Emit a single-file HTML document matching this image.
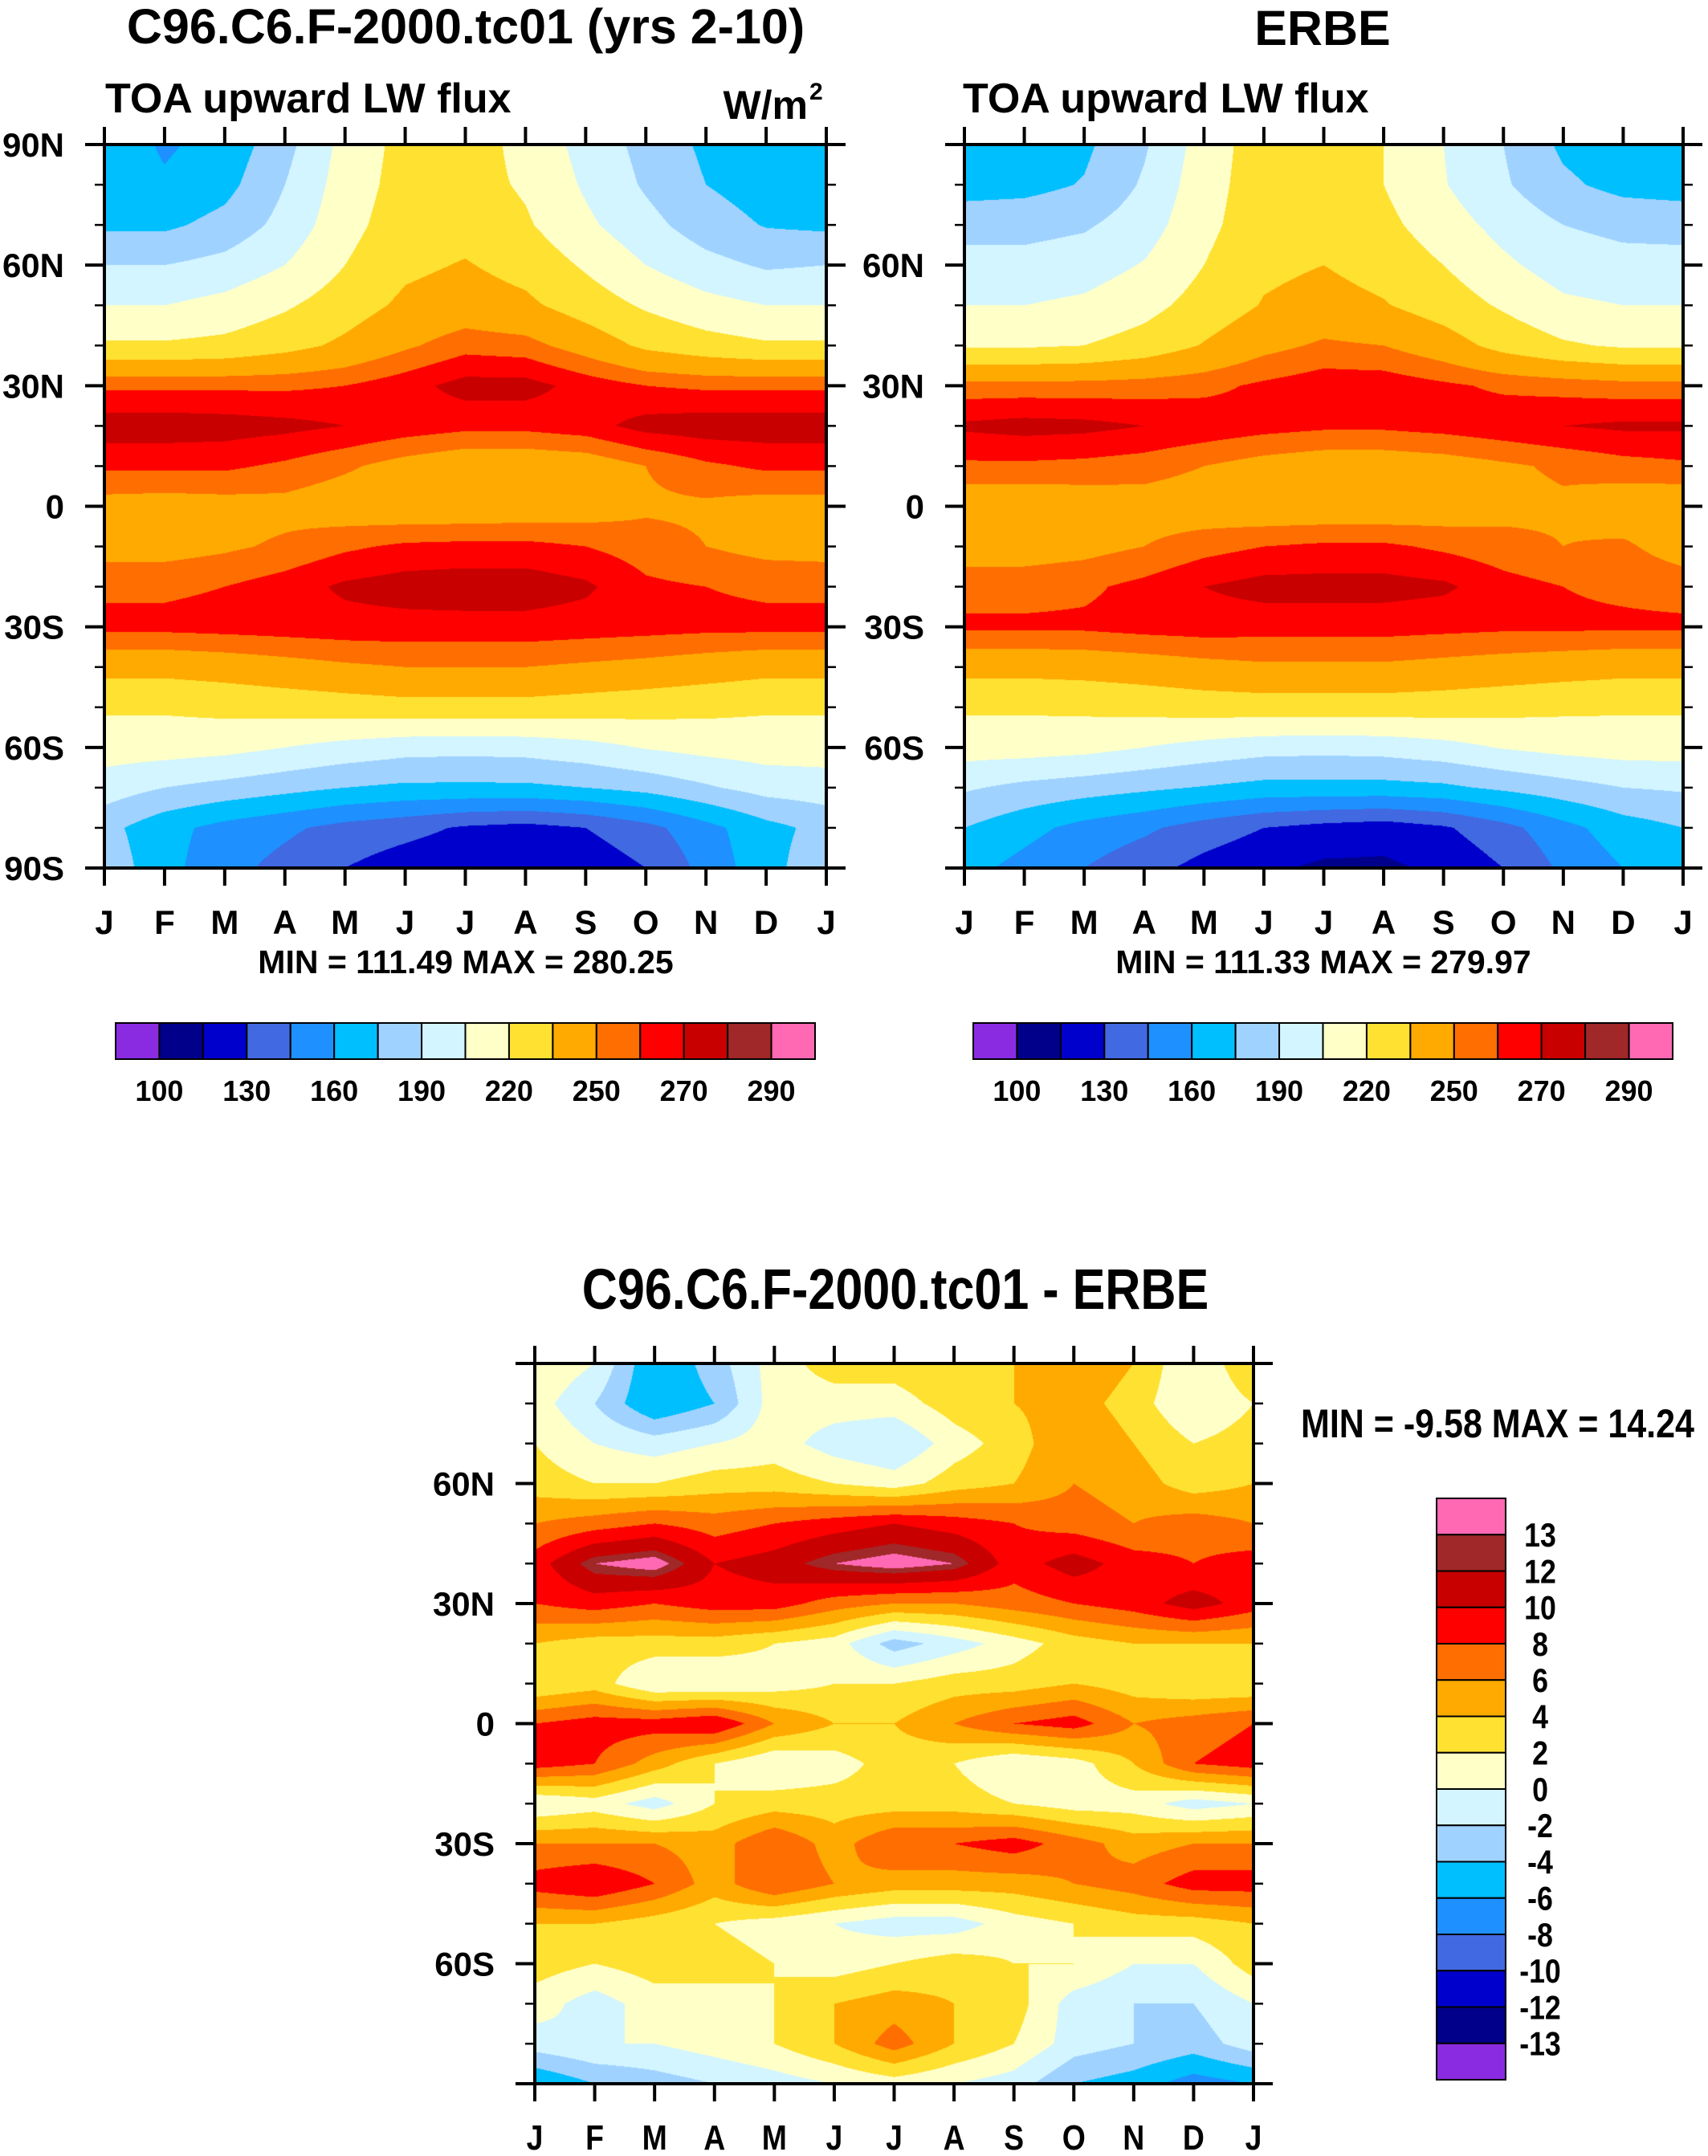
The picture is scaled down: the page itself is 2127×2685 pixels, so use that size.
<!DOCTYPE html>
<html><head><meta charset="utf-8"><style>
html,body{margin:0;padding:0;background:#fff}
#wrap{position:relative;width:2127px;height:2685px;overflow:hidden}
canvas{position:absolute}
svg{position:absolute;left:0;top:0}
text{font-family:"Liberation Sans",sans-serif;font-weight:bold;fill:#000}
</style></head><body>
<div id="wrap">
<canvas id="c1"></canvas>
<canvas id="c2"></canvas>
<canvas id="c3"></canvas>
<svg id="s" width="2127" height="2685"></svg>
</div>
<script>
const months=["J","F","M","A","M","J","J","A","S","O","N","D","J"];
const lats=[90,80,70,60,50,40,30,20,10,0,-10,-20,-30,-40,-50,-60,-70,-80,-90];
const absLevels=[100,115,130,145,160,175,190,205,220,235,250,260,270,280,290];
const absTickLabels=["100","130","160","190","220","250","270","290"];
const diffLevels=[-13,-12,-10,-8,-6,-4,-2,0,2,4,6,8,10,12,13];
const diffTickLabels=["13","12","10","8","6","4","2","0","-2","-4","-6","-8","-10","-12","-13"];
const colors=["#8a2be2","#00008b","#0000cd","#4169e1","#1e90ff","#00bfff","#a0d2ff","#d2f5ff","#ffffc8","#ffe132","#ffaa00","#ff6e00","#ff0000","#c80000","#a02828","#ff69b4"];
const modelVals=[
[170,158,165,185,210,225,228,215,200,185,172,168,170],
[168,162,170,190,212,226,226,218,203,188,175,168,168],
[172,172,180,195,215,228,230,222,208,195,182,174,172],
[190,190,195,205,220,232,236,230,218,205,195,188,190],
[205,205,210,218,228,238,242,238,228,218,210,205,205],
[222,222,224,230,238,248,256,254,244,232,226,222,222],
[258,258,258,258,260,266,274,274,266,260,258,258,258],
[276,276,275,273,270,266,263,263,266,274,276,276,276],
[262,262,262,258,252,245,240,240,242,250,258,262,262],
[245,244,245,246,242,240,240,241,243,248,248,245,245],
[245,245,248,252,258,262,263,263,260,255,250,246,245],
[258,258,260,265,272,275,276,276,272,262,260,258,258],
[263,263,264,265,266,266,266,266,265,264,263,263,263],
[240,240,242,245,248,250,250,250,248,246,243,240,240],
[222,222,224,226,228,230,230,230,228,226,224,222,222],
[212,212,210,205,200,196,195,196,200,206,210,212,212],
[198,190,185,180,175,172,172,172,175,180,188,196,198],
[180,165,155,148,140,135,128,125,130,140,155,170,180],
[185,165,150,140,130,122,118,115,120,130,150,170,185]];
const erbeVals=[
[160,165,172,188,212,228,230,220,205,190,172,165,160],
[168,170,176,192,214,228,228,220,206,192,178,170,168],
[185,185,188,198,216,229,230,224,212,200,190,186,185],
[195,195,198,206,220,232,235,230,220,208,198,195,195],
[205,205,208,215,226,236,240,236,228,218,208,205,205],
[218,218,220,226,236,246,252,250,242,230,222,218,218],
[254,254,254,255,257,262,266,266,262,258,256,254,254],
[272,274,273,270,267,264,262,262,264,267,270,272,272],
[258,258,257,255,250,245,242,242,244,248,252,256,258],
[240,240,242,244,242,240,240,240,242,246,248,242,240],
[244,244,246,250,256,260,262,262,258,254,250,252,244],
[256,256,258,263,270,274,274,274,272,264,260,258,256],
[262,262,262,264,265,264,264,264,263,262,262,262,262],
[240,240,241,243,246,248,248,248,246,244,242,240,240],
[222,222,223,225,227,228,228,228,227,225,223,222,222],
[212,212,210,205,200,196,195,196,200,206,210,212,212],
[192,186,182,178,174,170,170,170,172,178,184,190,192],
[175,165,155,148,138,130,125,122,128,140,155,168,175],
[165,155,145,135,125,118,112,112,118,130,148,160,165]];
const diffVals=[
[2,0,-6,-3,1,3,3,4,4,6,4,0,4],
[1,-2,-6,-4,1,1,1,3,4,5,3,0,2],
[2,0,-1,0,1,-1,-2,1,3,6,4,2,3],
[3,2,2,3,3,2,1,3,4,6,5,3,4],
[6,7,8,7,8,9,10,9,8,7,6,7,6],
[9,13,14,10,11,13,14,13,9,11,9,8,9],
[8,9,8,9,9,7,6,6,7,8,9,11,9],
[4,3,3,3,2,1,-3,-1,1,3,4,4,4],
[2,3,0,0,1,2,2,3,3,4,3,2,2],
[8,9,9,10,6,4,4,6,8,9,6,7,8],
[9,8,5,2,0,1,3,2,0,1,4,8,9],
[0,1,-1,2,3,3,3,3,2,1,1,-1,0],
[6,6,6,5,8,5,8,8,9,7,5,6,6],
[9,10,8,5,8,6,5,5,5,6,7,9,9],
[4,4,3,2,1,0,-1,-1,1,2,3,3,4],
[3,2,3,3,2,1,2,3,2,2,0,0,3],
[1,-1,1,1,2,4,5,4,3,-1,-2,-2,0],
[-1,0,0,1,2,4,7,4,2,-1,-2,-3,-1],
[-6,-4,-3,-2,-1,0,1,0,-1,-4,-5,-7,-6]];

const NS="http://www.w3.org/2000/svg";
const svg=document.getElementById('s');
function el(tag,attrs,txt){const e=document.createElementNS(NS,tag);for(const k in attrs)e.setAttribute(k,attrs[k]);if(txt!==undefined)e.textContent=txt;svg.appendChild(e);return e;}
function hexRgb(h){return [parseInt(h.substr(1,2),16),parseInt(h.substr(3,2),16),parseInt(h.substr(5,2),16)];}
const rgb=colors.map(hexRgb);
function colorIdx(v,levels){let i=0;while(i<levels.length&&v>=levels[i])i++;return i;}
function narrowT(x,s){return 'translate('+x+',0) scale('+s+',1) translate('+(-x)+',0)';}

function panel(cid,vals,levels,P,name,yl){
  const cv=document.getElementById(cid);
  const W=P.r-P.l,H=P.b-P.t;
  cv.width=W;cv.height=H;cv.style.left=P.l+'px';cv.style.top=P.t+'px';
  const ctx=cv.getContext('2d');const img=ctx.createImageData(W,H);
  const nx=months.length-1,ny=lats.length-1;
  for(let y=0;y<H;y++){
    const fy=(y+0.5)/H*ny;const j=Math.min(Math.floor(fy),ny-1);const ty=fy-j;
    for(let x=0;x<W;x++){
      const fx=(x+0.5)/W*nx;const i=Math.min(Math.floor(fx),nx-1);const tx=fx-i;
      const v=(vals[j][i]*(1-tx)+vals[j][i+1]*tx)*(1-ty)+(vals[j+1][i]*(1-tx)+vals[j+1][i+1]*tx)*ty;
      const c=rgb[colorIdx(v,levels)];const o=(y*W+x)*4;
      img.data[o]=c[0];img.data[o+1]=c[1];img.data[o+2]=c[2];img.data[o+3]=255;
    }
  }
  ctx.putImageData(img,0,0);
  const xs=m=>P.l+m/(months.length-1)*W;
  const ys=lat=>P.t+(90-lat)/180*H;
  const g=el('rect',{x:P.l,y:P.t,width:W,height:H,fill:'none',stroke:'#000','stroke-width':4});
  
  for(let m=0;m<months.length;m++){
    const x=xs(m);
    el('line',{x1:x,y1:P.t,x2:x,y2:P.t-22,stroke:'#000','stroke-width':4});
    el('line',{x1:x,y1:P.b,x2:x,y2:P.b+22,stroke:'#000','stroke-width':4});
    const t=el('text',{x:x,y:P.b+82,'font-size':P.narrow?44:42,'text-anchor':'middle'},months[m]);
    if(P.narrow)t.setAttribute('transform',narrowT(x,0.85));
    
  }
  for(let lat=-90;lat<=90;lat+=10){
    const y=ys(lat);const major=lat%30===0;const L=major?24:12;
    el('line',{x1:P.l,y1:y,x2:P.l-L,y2:y,stroke:'#000','stroke-width':major?4:2.5});
    el('line',{x1:P.r,y1:y,x2:P.r+L,y2:y,stroke:'#000','stroke-width':major?4:2.5});
  }
  yl.forEach(lab=>{
    const y=ys(lab.v);
    const t=el('text',{x:P.l-50,y:y+15,'font-size':42,'text-anchor':'end'},lab.s);
    
  });
}
const ylFull=[{v:90,s:"90N"},{v:60,s:"60N"},{v:30,s:"30N"},{v:0,s:"0"},{v:-30,s:"30S"},{v:-60,s:"60S"},{v:-90,s:"90S"}];
const ylPart=ylFull.slice(1,6);
panel('c1',modelVals,absLevels,{l:130,r:1029,t:180,b:1081},'model',ylFull);
panel('c2',erbeVals,absLevels,{l:1201,r:2096,t:180,b:1081},'erbe',ylPart);
panel('c3',diffVals,diffLevels,{l:666,r:1561,t:1698,b:2595,narrow:true},'difference',ylPart);

function hbar(x0,x1,y0,y1,name){
  const n=colors.length,w=(x1-x0)/n;
  for(let i=0;i<n;i++){const r=el('rect',{x:x0+i*w,y:y0,width:w,height:y1-y0,fill:colors[i],stroke:'#000','stroke-width':2});
    }
  absTickLabels.forEach((s,k)=>{const t=el('text',{x:x0+(1+2*k)*w,y:y1+52,'font-size':36,'text-anchor':'middle'},s);
    });
}
hbar(144,1015,1274,1319,'model-colorbar');
hbar(1212,2083,1274,1319,'erbe-colorbar');
(function(){const x0=1789,x1=1875,y0=1866,y1=2590,n=colors.length,h=(y1-y0)/n;
  for(let i=0;i<n;i++){const r=el('rect',{x:x0,y:y0+i*h,width:x1-x0,height:h,fill:colors[n-1-i],stroke:'#000','stroke-width':2});
    }
  diffTickLabels.forEach((s,k)=>{const y=y0+(k+1)*h+15;const t=el('text',{x:1918,y:y,'font-size':42,'text-anchor':'middle',transform:narrowT(1918,0.85)},s);
    });
})();
function txt(s,a,name){const t=el('text',a,s);return t;}
txt("C96.C6.F-2000.tc01 (yrs 2-10)",{x:580,y:54,'font-size':61,'text-anchor':'middle'},'model-title');
txt("ERBE",{x:1647,y:56,'font-size':61,'text-anchor':'middle'},'erbe-title');
txt("TOA upward LW flux",{x:131,y:140,'font-size':52},'model-variable-label');
txt("TOA upward LW flux",{x:1199,y:140,'font-size':52},'erbe-variable-label');
txt("W/m",{x:1006,y:148,'font-size':50,'text-anchor':'end'},'units-label');
txt("2",{x:1008,y:124,'font-size':30},'units-exponent');
txt("MIN = 111.49 MAX = 280.25",{x:580,y:1212,'font-size':41,'text-anchor':'middle'},'model-min-max');
txt("MIN = 111.33 MAX = 279.97",{x:1648,y:1212,'font-size':41,'text-anchor':'middle'},'erbe-min-max');
txt("C96.C6.F-2000.tc01 - ERBE",{x:1115,y:1630,'font-size':71,'text-anchor':'middle',transform:narrowT(1115,0.86)},'difference-title');
txt("MIN =  -9.58 MAX =  14.24",{x:1865,y:1790,'font-size':50,'text-anchor':'middle',transform:narrowT(1865,0.86)},'difference-min-max');
</script>
</body></html>
